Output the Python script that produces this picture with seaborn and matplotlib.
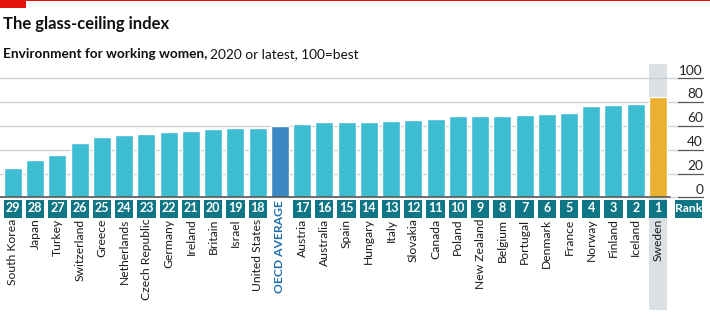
import matplotlib
matplotlib.use("Agg")
import matplotlib.pyplot as plt
from matplotlib.patches import Rectangle
import seaborn as sns
import pandas as pd

# Data: glass-ceiling index, 2020 or latest (100 = best)
countries = ["South Korea", "Japan", "Turkey", "Switzerland", "Greece", "Netherlands",
             "Czech Republic", "Germany", "Ireland", "Britain", "Israel", "United States",
             "OECD AVERAGE", "Austria", "Australia", "Spain", "Hungary", "Italy", "Slovakia",
             "Canada", "Poland", "New Zealand", "Belgium", "Portugal", "Denmark", "France",
             "Norway", "Finland", "Iceland", "Sweden"]
scores = [25.1, 31.6, 35.8, 45.6, 50.7, 52.4, 53.5, 54.6, 56.0, 57.1, 58.0, 58.3,
          59.7, 61.9, 63.0, 63.6, 63.6, 63.9, 64.7, 65.9, 68.1, 68.1, 68.4, 69.5,
          70.1, 70.6, 76.9, 77.7, 78.8, 84.3]
ranks = ["29", "28", "27", "26", "25", "24", "23", "22", "21", "20", "19", "18",
         "", "17", "16", "15", "14", "13", "12", "11", "10", "9", "8", "7", "6",
         "5", "4", "3", "2", "1"]
y_ticks = [0, 20, 40, 60, 80, 100]

BAR = "#3ebcd2"
AVG = "#3b87c2"
TOP = "#e9b12f"
TEAL = "#0f7686"
BAND = "#dae0e4"
GRID = "#cdd2d6"
RED = "#e3120b"

sns.set_theme(style="white")
plt.rcParams["font.family"] = ["Lato", "DejaVu Sans"]

W, H = 710, 329
fig = plt.figure(figsize=(W / 100, H / 100), dpi=100)
ax = fig.add_axes([0, 0, 1, 1])

# pixel geometry -> data coordinates
x0_px, pitch = 13.0, 22.24
y0_px, per = 197.4, 1.191
def xd(px):
    return (px - x0_px) / pitch
def yd(py):
    return (y0_px - py) / per

n = len(countries)
# highlight band behind the top-ranked country
ax.add_patch(Rectangle((n - 1 - 0.41, yd(310)), 0.82, yd(64) - yd(310),
                       facecolor=BAND, edgecolor="none", zorder=0))

# gridlines with darker tick segments under the value labels
for t in y_ticks:
    ax.plot([xd(0), xd(678)], [t, t], color=GRID, lw=1.0, zorder=0.5)
    ax.plot([xd(678), xd(703)], [t, t], color="#555555", lw=0.9, zorder=0.5)
    ax.text(xd(703), t + 1.5, str(t), ha="right", va="bottom", fontsize=9.8,
            color="#222222")

df = pd.DataFrame({"country": countries, "score": scores})
colors = {c: BAR for c in countries}
colors["OECD AVERAGE"] = AVG
colors["Sweden"] = TOP

sns.barplot(data=df, x="country", y="score", hue="country", palette=colors,
            order=countries, legend=False, width=0.81, saturation=1, ax=ax, zorder=2)
ax.set_xlim(xd(0), xd(W))
ax.set_ylim(yd(H), yd(0))
ax.axis("off")

# baseline
ax.plot([xd(0), xd(670)], [0, 0], color="#4d4d4d", lw=1.1, zorder=3)

# rank boxes and country labels
box_top, box_bot = yd(199.5), yd(217.5)
for i, (c, r) in enumerate(zip(countries, ranks)):
    if r:
        ax.add_patch(Rectangle((i - 0.41, box_bot), 0.82, box_top - box_bot,
                               facecolor=TEAL, edgecolor="none", zorder=3))
        ax.text(i, (box_top + box_bot) / 2, r, ha="center", va="center",
                fontsize=9, fontweight="bold", color="white", zorder=4)
    if c == "OECD AVERAGE":
        ax.text(i, yd(200), c, rotation=90, ha="center", va="top", fontsize=8.7,
                fontweight="bold", color="#1f6fae", zorder=4)
    else:
        ax.text(i, yd(218.5), c, rotation=90, ha="center", va="top", fontsize=8.7,
                color="#1a1a1a", zorder=4)

# "Rank" header box
ax.add_patch(Rectangle((xd(675), box_bot), xd(702) - xd(675), box_top - box_bot,
                       facecolor=TEAL, edgecolor="none", zorder=3))
ax.text((xd(675) + xd(702)) / 2, (box_top + box_bot) / 2, "Rank", ha="center",
        va="center", fontsize=8.7, fontweight="bold", color="white", zorder=4)

# red rule and tag at the top
fig.patches.append(Rectangle((0, 1 - 1.2 / H), 1, 1.2 / H, transform=fig.transFigure,
                             facecolor=RED, edgecolor="none"))
fig.patches.append(Rectangle((0, 1 - 8 / H), 26 / W, 8 / H, transform=fig.transFigure,
                             facecolor=RED, edgecolor="none"))

# title and subtitle
fig.text(3 / W, 1 - 29 / H, "The glass-ceiling index", fontsize=12,
         fontweight="bold", color="#111111", va="baseline")
sub_bold = fig.text(3 / W, 1 - 58.5 / H, "Environment for working women,",
                    fontsize=9.8, fontweight="bold", color="#111111", va="baseline")
fig.canvas.draw()
bb = sub_bold.get_window_extent()
fig.text((bb.x1 + 3) / W, 1 - 58.5 / H, "2020 or latest, 100=best", fontsize=9.8,
         color="#111111", va="baseline")

fig.savefig("out.png", dpi=100)
